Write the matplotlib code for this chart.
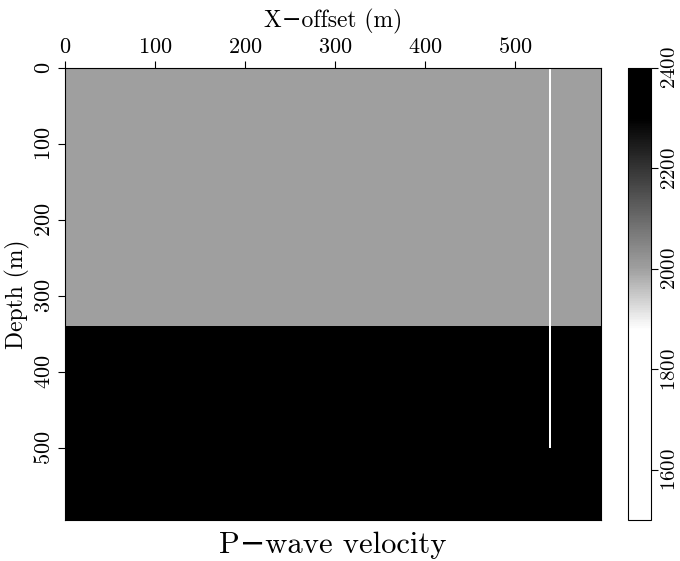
import numpy as np
import matplotlib.pyplot as plt
from matplotlib.colors import LinearSegmentedColormap, Normalize

plt.rcParams['font.family'] = ['cmr10', 'DejaVu Serif']
plt.rcParams['axes.formatter.use_mathtext'] = True

# model geometry (m)
dx = 2.5
xmax = 595.0
zmax = 595.0
interface_depth = 340.0
v_top = 2000.0
v_bottom = 2400.0
# well log position
well_x = 540.0
well_bottom = 500.0
v_well = 1500.0

vmin, vmax = 1500.0, 2400.0
cbar_ticks = [1600, 1800, 2000, 2200, 2400]
xticks = [0, 100, 200, 300, 400, 500]
yticks = [0, 100, 200, 300, 400, 500]

xe = np.arange(0, xmax + dx / 2, dx)
ze = np.arange(0, zmax + dx / 2, dx)
xc = 0.5 * (xe[:-1] + xe[1:])
zc = 0.5 * (ze[:-1] + ze[1:])
vel = np.where(zc[:, None] < interface_depth, v_top, v_bottom) * np.ones(len(xc))
iwell = np.abs(xc - well_x).argmin()
vel[zc < well_bottom, iwell] = v_well

# grey scale clipped at both ends
def frac(v):
    return (v - vmin) / (vmax - vmin)

cmap = LinearSegmentedColormap.from_list('clipgrey', [
    (0.0, (1, 1, 1)),
    (frac(1880), (1, 1, 1)),
    (frac(2000), (0.627, 0.627, 0.627)),
    (frac(2300), (0, 0, 0)),
    (1.0, (0, 0, 0)),
])

fig = plt.figure(figsize=(6.8, 5.61), dpi=100)
ax = fig.add_axes([0.0956, 0.0731, 0.788, 0.8057])
mesh = ax.pcolormesh(xe, ze, vel, cmap=cmap, norm=Normalize(vmin, vmax),
                     shading='flat', antialiased=False)
ax.set_xlim(0, xmax)
ax.set_ylim(zmax, 0)

ax.xaxis.tick_top()
ax.xaxis.set_label_position('top')
ax.set_xticks(xticks)
ax.set_yticks(yticks)
ax.tick_params(direction='out', length=5, width=0.8, labelsize=16, pad=3)
for lab in ax.get_yticklabels():
    lab.set_rotation(90)
    lab.set_va('center')
ax.set_xlabel('X\u2212offset (m)', fontsize=17, labelpad=7)
ax.set_ylabel('Depth (m)', fontsize=17, labelpad=3)
ax.set_title('P\u2212wave velocity', fontsize=22, y=-0.075, va='center')

cax = fig.add_axes([0.9235, 0.0731, 0.034, 0.8057])
cb = fig.colorbar(mesh, cax=cax, ticks=cbar_ticks)
cb.outline.set_linewidth(0.8)
cax.tick_params(direction='out', length=5, width=0.8, labelsize=15, pad=2)
for lab in cax.get_yticklabels():
    lab.set_rotation(90)
    lab.set_va('center')

fig.savefig('out.png', dpi=100)
